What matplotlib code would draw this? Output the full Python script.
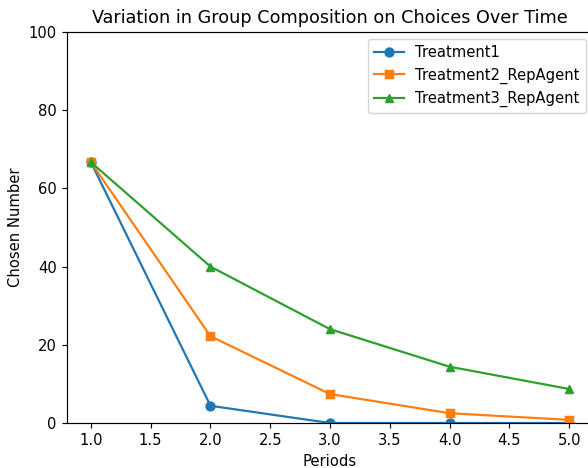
import matplotlib
matplotlib.use("Agg")
import matplotlib.pyplot as plt

periods = [1, 2, 3, 4, 5]
treatment1 = [66.7, 4.4, 0.0, 0.0, 0.0]
treatment2_rep = [66.7, 22.2, 7.4, 2.5, 0.8]
treatment3_rep = [66.7, 40.0, 24.0, 14.4, 8.7]

DPI = 106
fig = plt.figure(figsize=(588 / DPI, 468 / DPI), dpi=DPI)
# axes run a little past the right edge, as in the original crop
ax = fig.add_axes([67 / 588, 45 / 468, 526 / 588, 391 / 468])

ax.plot(periods, treatment1, marker="o", label="Treatment1")
ax.plot(periods, treatment2_rep, marker="s", label="Treatment2_RepAgent")
ax.plot(periods, treatment3_rep, marker="^", label="Treatment3_RepAgent")

ax.set_ylim(0, 100)
ax.set_title("Variation in Group Composition on Choices Over Time")
ax.set_xlabel("Periods")
ax.set_ylabel("Chosen Number")
ax.legend(loc="upper right")

fig.savefig("out.png", dpi=DPI)
